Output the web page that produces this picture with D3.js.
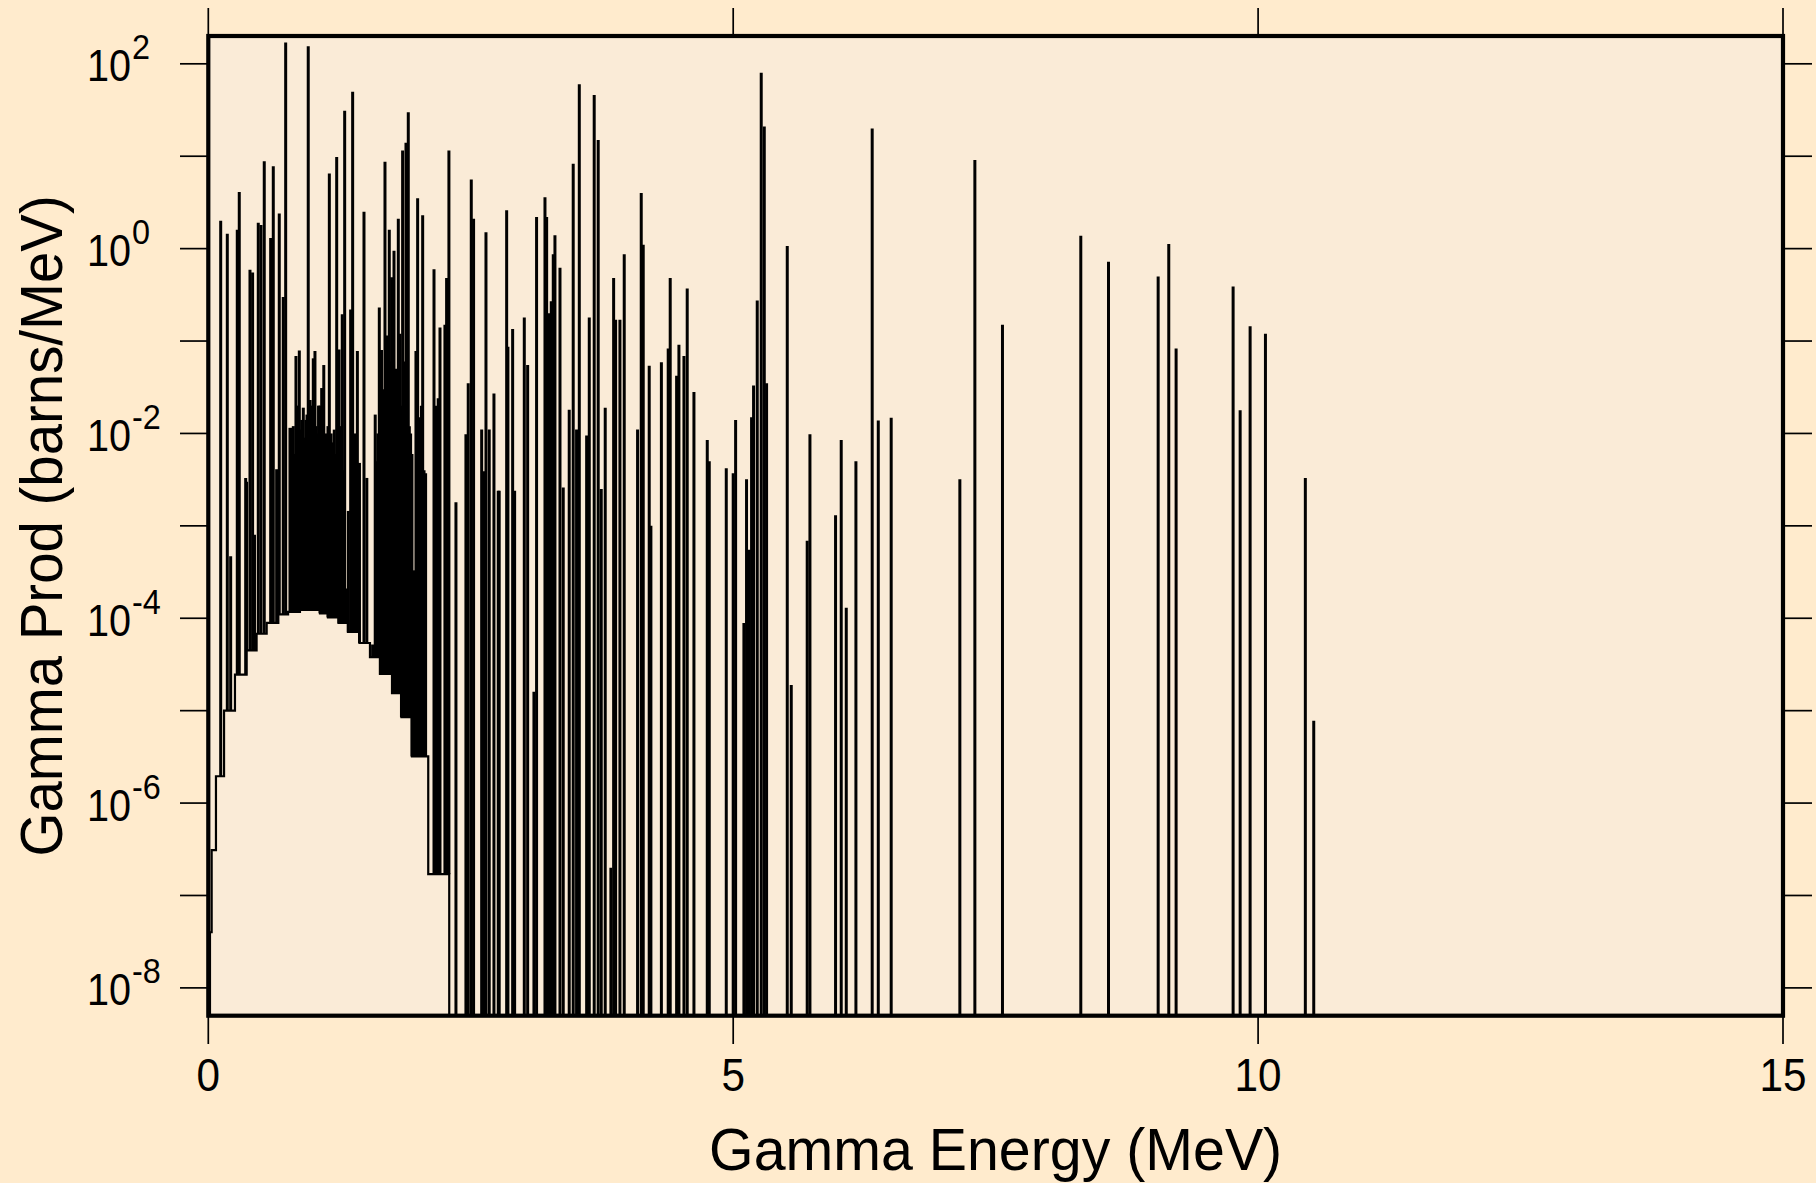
<!DOCTYPE html>
<html><head><meta charset="utf-8">
<script src="https://cdn.jsdelivr.net/npm/d3@7"></script>
<style>html,body{margin:0;padding:0;background:#FFEBCD;} svg{display:block}</style>
</head><body>
<svg id="chart" width="1816" height="1183"></svg>
<script>
// ---- data ----
const contEnergy = [0, 0.016, 0.032, 0.073, 0.15, 0.254, 0.365, 0.46, 0.556, 0.667, 0.76, 0.873, 1.064, 1.14, 1.24, 1.33, 1.44, 1.54, 1.635, 1.75, 1.84, 1.94, 2.095, 2.295, 15];
const contValue  = [5e-9, 4e-8, 3.1e-7, 1.95e-6, 1e-5, 2.45e-5, 4.5e-5, 6.8e-5, 8.9e-5, 1.1e-4, 1.17e-4, 1.23e-4, 1.13e-4, 1.02e-4, 8.9e-5, 7.1e-5, 5.4e-5, 3.8e-5, 2.5e-5, 1.55e-5, 8.5e-6, 3.2e-6, 1.7e-7, 1e-10, 1e-10];

const lineEnergy = [
 0.118,0.181,0.213,0.276,0.295,0.356,0.365,0.397,0.422,0.44,0.476,0.502,0.533,0.594,0.619,0.651,0.676,0.714,0.737,
 0.778,0.79,0.80,0.81,0.82,0.835,0.845,0.85,0.867,0.88,0.89,0.905,0.92,0.93,0.94,0.952,0.96,0.97,0.985,
 1.0,1.016,1.025,1.038,1.05,1.064,1.072,1.08,1.09,1.1,1.12,1.13,1.14,1.153,1.17,1.18,1.19,1.20,1.21,1.223,1.235,1.245,1.26,1.276,1.285,1.299,
 1.318,1.334,1.356,1.375,1.40,1.42,1.44,1.483,1.51,1.565,1.59,1.60,1.615,1.629,1.64,1.65,1.66,1.67,1.683,1.69,1.70,1.71,1.724,1.735,1.746,1.755,1.769,1.785,1.795,
 1.81,1.826,1.84,1.851,1.865,1.875,1.883,1.895,1.905,1.915,1.927,1.94,1.96,1.978,1.994,2.01,2.02,2.03,2.042,2.055,2.07,
 2.15,2.17,2.19,2.207,2.254,2.27,2.292,2.359,2.454,2.476,2.505,2.527,2.604,2.626,2.645,2.676,2.721,2.762,2.771,2.842,2.854,2.899,2.918,
 3.010,3.042,3.102,3.127,3.207,3.223,3.248,3.267,3.286,3.302,3.350,3.381,3.438,3.476,3.508,3.534,3.604,3.629,3.676,3.714,3.743,3.781,3.835,3.861,3.880,3.921,3.962,
 4.089,4.124,4.143,4.200,4.216,4.316,4.381,4.400,4.461,4.483,4.531,4.562,4.626,4.753,4.772,4.934,
 5.000,5.023,5.102,5.127,5.153,5.175,5.194,5.229,5.267,5.296,5.318,5.515,5.553,5.705,5.731,5.975,
 6.029,6.077,6.169,6.324,6.382,6.505,7.159,7.302,7.565,8.311,8.575,9.048,9.149,9.219,9.762,9.829,9.924,10.07,10.45,10.53
];
const lineValue = [
 2.0,1.45,4.7e-4,1.6,4.1,3.3e-3,3.0e-3,0.59,0.55,8e-4,1.9,1.8,8.8,1.3,7.8,4.1e-3,2.4,0.30,170,
 0.0115,0.008,0.0115,0.012,0.006,0.069,0.009,0.02,0.079,0.011,0.014,0.019,0.009,0.014,0.016,155,0.012,0.023,0.02,
 0.065,0.078,0.012,0.01,0.02,0.02,0.009,0.031,0.015,0.055,0.01,0.007,0.012,6.5,0.01,0.008,0.006,0.011,0.006,9.8,0.009,0.081,0.012,0.195,0.004,31,
 2.1e-4,1.45e-3,0.22,50,0.01,0.078,4.8e-3,2.5,3.3e-3,5.2e-5,0.016,0.005,0.01,0.23,0.02,0.08,0.03,0.012,8.7,0.05,0.115,0.03,1.6,0.06,0.49,0.04,0.95,0.05,0.03,
 2.1,0.12,0.02,11.5,0.06,0.04,14,0.03,30,0.012,0.01,0.006,3.3e-4,0.078,3.5,0.015,0.01,0.02,2.3,0.004,3.7e-3,
 0.6,0.02,0.024,0.14,0.15,0.48,11.5,1.8e-3,0.0098,0.035,5.6,2.1,0.011,3.9e-3,1.5,0.011,0.027,2.4e-3,2.4e-3,2.6,0.087,0.135,2.4e-3,
 0.18,0.055,1.6e-5,2.2,3.6,2.2,0.2,0.27,0.87,1.4,0.62,2.6e-3,0.018,8.3,0.011,60,9.5e-3,0.18,46,15,2.5e-3,0.019,2e-7,0.48,0.17,0.17,0.87,
 0.011,4.0,1.1,0.054,1e-3,0.059,0.083,0.48,0.042,0.091,0.069,0.37,0.028,8.5e-3,5e-3,4.2e-3,
 3.7e-3,0.014,8.9e-5,3.2e-3,5.5e-4,0.015,0.033,0.275,80,21,0.035,1.07,1.9e-5,6.9e-4,9.8e-3,1.3e-3,
 8.5e-3,1.3e-4,5e-3,20,0.0138,0.0148,3.2e-3,9.1,0.15,1.38,0.72,0.5,1.12,0.083,0.39,0.0178,0.145,0.12,3.3e-3,7.8e-6
];

const xTickValues = [0, 5, 10, 15];
const yTickExponents = [-8,-7,-6,-5,-4,-3,-2,-1,0,1,2];
const yLabelExponents = [-8,-6,-4,-2,0,2];
const xTitle = "Gamma Energy (MeV)";
const yTitle = "Gamma Prod (barns/MeV)";

// ---- layout ----
const W = 1816, H = 1183;
const L = 208.3, R = 1783, T = 36, B = 1015.7;
const svg = d3.select("#chart");
const FONT = "'Liberation Sans', Arial, Helvetica, sans-serif";

svg.append("rect").attr("width", W).attr("height", H).attr("fill", "#FFEBCD");
svg.append("rect").attr("x", L).attr("y", T).attr("width", R - L).attr("height", B - T).attr("fill", "#FAEBD7");

const x = d3.scaleLinear().domain([0, 15]).range([L, R]);
const y = d3.scaleLog().domain([5e-9, 200]).range([B, T]).clamp(true);

svg.append("clipPath").attr("id", "clip").append("rect")
  .attr("x", L).attr("y", T).attr("width", R - L).attr("height", B - T);
const g = svg.append("g").attr("clip-path", "url(#clip)");

function contAt(e) {
  const i = Math.max(0, d3.bisectRight(contEnergy, e) - 1);
  return contValue[i];
}

// continuum
const cont = contEnergy.map((e, i) => [e, contValue[i]]);
g.append("path").datum(cont)
  .attr("fill", "none").attr("stroke", "#000").attr("stroke-width", 2.2)
  .attr("d", d3.line().x(d => x(d[0])).y(d => y(d[1])).curve(d3.curveStepAfter));

// discrete lines
const lines = lineEnergy.map((e, i) => ({e, v: lineValue[i], base: contAt(e)}))
  .filter(d => d.v > d.base);
g.selectAll("line.spike").data(lines).join("line")
  .attr("class", "spike")
  .attr("x1", d => x(d.e)).attr("x2", d => x(d.e))
  .attr("y1", d => y(d.base)).attr("y2", d => y(d.v))
  .attr("stroke", "#000").attr("stroke-width", 3.0);

// ticks
const tickG = svg.append("g").attr("stroke", "#000").attr("stroke-width", 1.7);
xTickValues.forEach(v => {
  tickG.append("line").attr("x1", x(v)).attr("x2", x(v)).attr("y1", T).attr("y2", 8);
  tickG.append("line").attr("x1", x(v)).attr("x2", x(v)).attr("y1", B).attr("y2", 1044);
});
yTickExponents.forEach(p => {
  const yy = y(Math.pow(10, p));
  tickG.append("line").attr("x1", 180).attr("x2", L).attr("y1", yy).attr("y2", yy);
  tickG.append("line").attr("x1", R).attr("x2", 1812).attr("y1", yy).attr("y2", yy);
});

// frame
svg.append("rect").attr("x", L).attr("y", T).attr("width", R - L).attr("height", B - T)
  .attr("fill", "none").attr("stroke", "#000").attr("stroke-width", 4.2);

// x tick labels
xTickValues.forEach(v => {
  svg.append("text")
    .attr("transform", `translate(${x(v)},1091) scale(0.92,1)`)
    .attr("text-anchor", "middle").attr("font-family", FONT).attr("font-size", 46)
    .attr("fill", "#000").text(v);
});

// y tick labels
yLabelExponents.forEach(p => {
  const yy = y(Math.pow(10, p));
  const t = svg.append("text")
    .attr("transform", `translate(87,${yy + 17.5}) scale(0.9,1)`)
    .attr("font-family", FONT).attr("font-size", 44).attr("fill", "#000");
  t.append("tspan").text("10");
  t.append("tspan").attr("font-size", 36).attr("dy", -22).attr("dx", 1).text(String(p));
});

// titles
svg.append("text")
  .attr("transform", `translate(${(L + R) / 2},1170) scale(0.955,1)`)
  .attr("text-anchor", "middle").attr("font-family", FONT).attr("font-size", 60)
  .attr("fill", "#000").text(xTitle);
svg.append("text")
  .attr("transform", `translate(62,${(T + B) / 2}) rotate(-90) scale(0.94,1)`)
  .attr("text-anchor", "middle").attr("font-family", FONT).attr("font-size", 60)
  .attr("fill", "#000").text(yTitle);
</script>
</body></html>
